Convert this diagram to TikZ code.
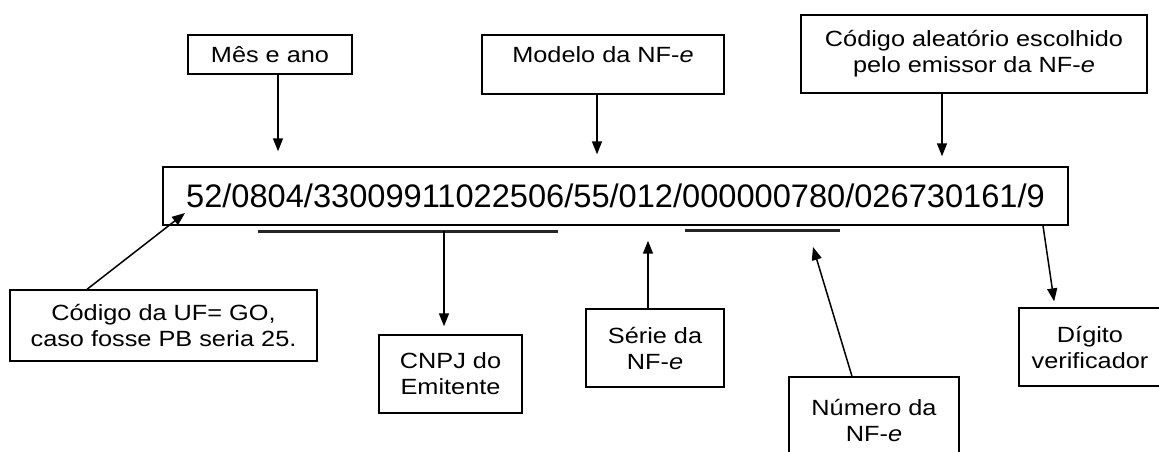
\documentclass[tikz,border=0pt]{standalone}
\usepackage{fontspec}
\setmainfont{Liberation Sans}
\newfontfamily\lblfont[FakeStretch=1.15]{Liberation Sans}
\usetikzlibrary{arrows.meta,calc}
\begin{document}
\begin{tikzpicture}[x=1pt,y=-1pt,
  box/.style={draw=black, line width=1.4pt, inner sep=0pt, align=center,
    font=\lblfont\fontsize{22}{26}\selectfont},
  codebox/.style={draw=black, line width=1.4pt, inner sep=0pt,
    font=\fontsize{32.6}{38}\selectfont},
  arr/.style={line width=1.5pt, -{Triangle[length=13pt,width=10pt]}},
  uline/.style={line width=3pt, black!85}]
\useasboundingbox (0,0) rectangle (1159,451);

\node[box, minimum width=164, minimum height=39] (mes) at (270,54.5) {Mês e ano};
\node[box, minimum width=242, minimum height=59, text height=14pt, text depth=18pt] (modelo) at (603,64.5) {Modelo da NF-\textit{e}};
\node[box, minimum width=346, minimum height=78] (cod) at (974,54) {Código aleatório escolhido\\pelo emissor da NF-\textit{e}};
\node[codebox, minimum width=905, minimum height=58] (main) at (615.5,196) {52/0804/33009911022506/55/012/000000780/026730161/9};
\node[box, minimum width=307, minimum height=71] (uf) at (163.5,325.5) {Código da UF= GO,\\caso fosse PB seria 25.};
\node[box, minimum width=143, minimum height=78] (cnpj) at (450.5,374) {CNPJ do\\Emitente};
\node[box, minimum width=138, minimum height=78] (serie) at (655,348) {Série da\\NF-\textit{e}};
\node[box, minimum width=170, minimum height=86] (num) at (874,420) {Número da\\NF-\textit{e}};
\node[box, minimum width=142, minimum height=78] (dig) at (1090,347) {Dígito\\verificador};

\coordinate (u1a) at (258,231);
\coordinate (u1b) at (558,231);
\coordinate (u2a) at (685,230);
\coordinate (u2b) at (840,230);
\draw[uline] (u1a) -- (u1b);
\draw[uline] (u2a) -- (u2b);
\coordinate (u1m) at ($(u1a)!0.62!(u1b)$);
\coordinate (ufend) at (185,213);
\coordinate (numend) at (813,247);

\draw[arr, shorten >=15pt] ([xshift=8pt]mes.south) -- ([xshift=8pt]mes.south |- main.north);
\draw[arr, shorten >=12pt] ([xshift=-6pt]modelo.south) -- ([xshift=-6pt]modelo.south |- main.north);
\draw[arr, shorten >=10pt] ([xshift=-32pt]cod.south) -- ([xshift=-32pt]cod.south |- main.north);
\draw[arr] ([xshift=-76.5pt]uf.north) -- (ufend);
\draw[arr, shorten >=8pt] (u1m) -- (u1m |- cnpj.north);
\draw[arr, shorten >=15pt] ([xshift=-7pt]serie.north) -- ([xshift=-7pt]serie.north |- main.south);
\draw[arr] ([xshift=-22pt]num.north) -- (numend);
\draw[arr, shorten >=6pt] ([xshift=427.5pt]main.south) -- ([xshift=-35pt]dig.north);
\end{tikzpicture}
\end{document}
